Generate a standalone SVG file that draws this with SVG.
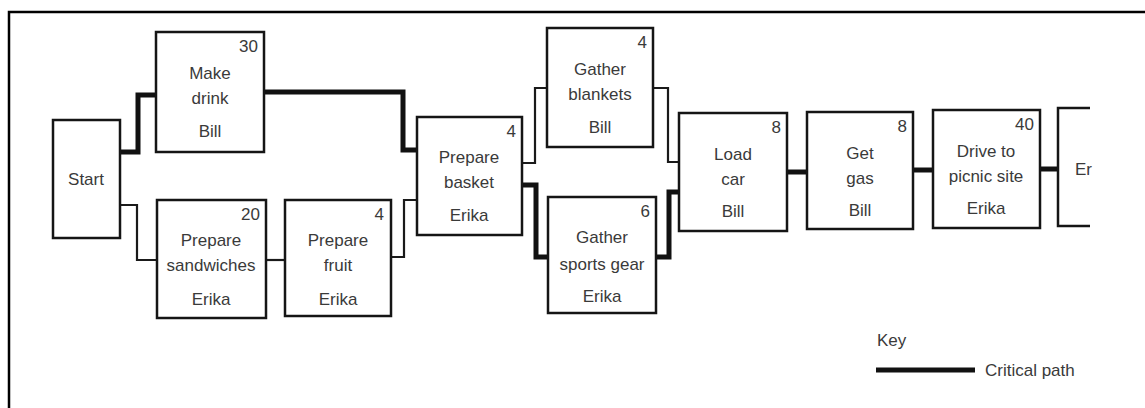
<svg xmlns="http://www.w3.org/2000/svg" width="1145" height="408" viewBox="0 0 1145 408">
<style>
.box{fill:#fff;stroke:#151515;stroke-width:2.5}
.t{font-family:"Liberation Sans",Arial,sans-serif;font-size:17px;fill:#3a3a3a;text-anchor:middle}
.s{font-family:"Liberation Sans",Arial,sans-serif;font-size:17px;fill:#3a3a3a;text-anchor:start}
.n{font-family:"Liberation Sans",Arial,sans-serif;font-size:17px;fill:#3a3a3a;text-anchor:end}
.thin{fill:none;stroke:#1a1a1a;stroke-width:2.2}
.thick{fill:none;stroke:#111;stroke-width:5}
</style>
<rect width="1145" height="408" fill="#fff"/>
<path d="M9,408 V12 H1145" fill="none" stroke="#000" stroke-width="2.5"/>
<g id="connectors">
<path class="thick" d="M120,152 H138 V95 H156"/>
<path class="thick" d="M264,92 H403 V150 H417"/>
<path class="thick" d="M522,185 H536 V257 H548"/>
<path class="thick" d="M656,257 H669 V192 H679"/>
<path class="thick" d="M787,172 H807"/>
<path class="thick" d="M913,170 H933"/>
<path class="thick" d="M1040,169 H1058"/>
<path class="thin" d="M120,205 H137 V260 H157"/>
<path class="thin" d="M266,260 H285"/>
<path class="thin" d="M391,257 H404 V200 H417"/>
<path class="thin" d="M522,163 H535 V88 H547"/>
<path class="thin" d="M653,88 H668 V162 H679"/>
</g>
<g id="start">
<rect class="box" x="53" y="120" width="67" height="118"/>
<text class="t" x="86" y="185">Start</text>
</g>
<g id="make-drink">
<rect class="box" x="156" y="32" width="108" height="120"/>
<text class="n" x="258" y="52">30</text>
<text class="t" x="210" y="79">Make</text>
<text class="t" x="210" y="104">drink</text>
<text class="t" x="210" y="137">Bill</text>
</g>
<g id="prepare-sandwiches">
<rect class="box" x="157" y="200" width="109" height="118"/>
<text class="n" x="260" y="220">20</text>
<text class="t" x="211" y="246">Prepare</text>
<text class="t" x="211" y="271">sandwiches</text>
<text class="t" x="211" y="305">Erika</text>
</g>
<g id="prepare-fruit">
<rect class="box" x="285" y="200" width="106" height="116"/>
<text class="n" x="384" y="220">4</text>
<text class="t" x="338" y="246">Prepare</text>
<text class="t" x="338" y="271">fruit</text>
<text class="t" x="338" y="305">Erika</text>
</g>
<g id="prepare-basket">
<rect class="box" x="417" y="117" width="105" height="118"/>
<text class="n" x="516" y="137">4</text>
<text class="t" x="469" y="163">Prepare</text>
<text class="t" x="469" y="188">basket</text>
<text class="t" x="469" y="221">Erika</text>
</g>
<g id="gather-blankets">
<rect class="box" x="547" y="28" width="106" height="119"/>
<text class="n" x="647" y="48">4</text>
<text class="t" x="600" y="75">Gather</text>
<text class="t" x="600" y="100">blankets</text>
<text class="t" x="600" y="133">Bill</text>
</g>
<g id="gather-sports-gear">
<rect class="box" x="548" y="197" width="108" height="116"/>
<text class="n" x="650" y="217">6</text>
<text class="t" x="602" y="243">Gather</text>
<text class="t" x="602" y="270">sports gear</text>
<text class="t" x="602" y="302">Erika</text>
</g>
<g id="load-car">
<rect class="box" x="679" y="113" width="108" height="118"/>
<text class="n" x="781" y="133">8</text>
<text class="t" x="733" y="160">Load</text>
<text class="t" x="733" y="185">car</text>
<text class="t" x="733" y="217">Bill</text>
</g>
<g id="get-gas">
<rect class="box" x="807" y="112" width="106" height="117"/>
<text class="n" x="907" y="132">8</text>
<text class="t" x="860" y="159">Get</text>
<text class="t" x="860" y="184">gas</text>
<text class="t" x="860" y="216">Bill</text>
</g>
<g id="drive">
<rect class="box" x="933" y="110" width="107" height="118"/>
<text class="n" x="1034" y="130">40</text>
<text class="t" x="986" y="157">Drive to</text>
<text class="t" x="986" y="182">picnic site</text>
<text class="t" x="986" y="214">Erika</text>
</g>
<g id="end">
<path d="M1090,108 H1058 V226 H1090" fill="none" stroke="#151515" stroke-width="2.5"/>
<text class="s" x="1075" y="175">Er</text>
</g>
<g id="key">
<text class="s" x="877" y="346">Key</text>
<path d="M876,370 H975" stroke="#111" stroke-width="5" fill="none"/>
<text class="s" x="985" y="376">Critical path</text>
</g>
</svg>
